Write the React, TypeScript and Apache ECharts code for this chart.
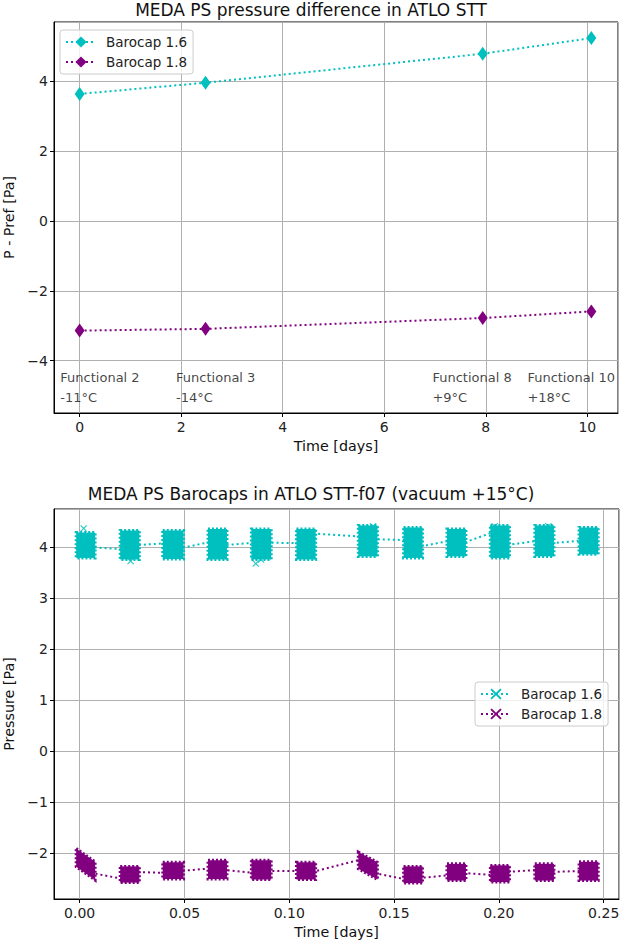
import { useEffect, useRef } from "react";
import * as echarts from "echarts";

const FONT = "DejaVu Sans";
const CYAN = "#00bfbf";
const PURPLE = "#800080";
const NAMES = ["Barocap 1.6", "Barocap 1.8"];

// ---- top chart: pressure difference at the functional tests ----
const testDays = [0, 2.48, 7.94, 10.08];
const diff16 = [3.64, 3.96, 4.79, 5.24];
const diff18 = [-3.14, -3.09, -2.78, -2.59];
const testNames = ["Functional 2", "Functional 3", "Functional 8", "Functional 10"];
const testTemps = ["-11°C", "-14°C", "+9°C", "+18°C"];
const testLabelX = [-0.38, 1.9, 6.95, 8.82];
const testLabelY = -4.19;

// ---- bottom chart: measurement bursts in STT-f07 ----
const burstStart = [0, 0.021, 0.0413, 0.0629, 0.0836, 0.1051, 0.1346, 0.1562, 0.1769, 0.1976, 0.2188, 0.2399];
const burstEnd = [0.0057, 0.0268, 0.0479, 0.0686, 0.0897, 0.1109, 0.1404, 0.1619, 0.1826, 0.2034, 0.2246, 0.2457];

// Barocap 1.6: spread of each burst, and first / last sample
const b16Low = [3.85, 3.82, 3.83, 3.82, 3.82, 3.82, 3.88, 3.85, 3.88, 3.85, 3.88, 3.92];
const b16High = [4.21, 4.25, 4.25, 4.28, 4.28, 4.28, 4.35, 4.31, 4.28, 4.35, 4.35, 4.31];
const b16First = [4.02, 3.95, 4.07, 4.1, 4.08, 4.07, 4.2, 4.13, 4.12, 4.29, 4.12, 4.12];
const b16Last = [3.99, 4.03, 3.97, 4.03, 4.08, 4.26, 4.15, 4.0, 4.07, 4.03, 4.07, 4.1];
const b16Outliers = [
  [0.0019, 4.36],
  [0.0243, 3.72],
  [0.084, 3.67],
  [0.0865, 3.75],
  [0.14, 4.4],
  [0.198, 4.4],
  [0.2236, 4.4],
];

// Barocap 1.8: spread at start and end of each burst (drifting in 1st and 7th)
const b18LowStart = [-2.2, -2.51, -2.44, -2.44, -2.45, -2.45, -2.24, -2.52, -2.47, -2.5, -2.47, -2.47];
const b18HighStart = [-1.98, -2.33, -2.25, -2.21, -2.21, -2.25, -2.05, -2.33, -2.28, -2.31, -2.28, -2.24];
const b18LowEnd = [-2.46, -2.51, -2.44, -2.44, -2.45, -2.45, -2.45, -2.52, -2.47, -2.5, -2.47, -2.47];
const b18HighEnd = [-2.24, -2.33, -2.25, -2.21, -2.21, -2.25, -2.25, -2.33, -2.28, -2.31, -2.28, -2.24];
const b18First = [-2.05, -2.51, -2.39, -2.3, -2.39, -2.35, -2.12, -2.52, -2.43, -2.43, -2.33, -2.35];
const b18Last = [-2.39, -2.37, -2.35, -2.33, -2.35, -2.37, -2.39, -2.49, -2.39, -2.37, -2.37, -2.4];

const X_SYMBOL =
  "path://M0,1.2 L1.2,0 L5,3.8 L8.8,0 L10,1.2 L6.2,5 L10,8.8 L8.8,10 L5,6.2 L1.2,10 L0,8.8 L3.8,5 Z";

const minusFmt = (v: number) => (v < 0 ? "\u2212" + Math.abs(v) : String(v));

const axisCommon = {
  axisLine: { show: true, onZero: false, lineStyle: { color: "#000", width: 1 } },
  axisTick: { show: true, inside: false, length: 4, lineStyle: { color: "#000" } },
  splitLine: { show: true, lineStyle: { color: "#b0b0b0", width: 1 } },
  nameTextStyle: { fontFamily: FONT, fontSize: 14.3, color: "#111" },
};

const labelStyle = { fontFamily: FONT, fontSize: 14, color: "#222", showMinLabel: false, showMaxLabel: false };

const legendCommon = {
  orient: "vertical",
  padding: [5, 6, 5, 5],
  itemGap: 6,
  itemWidth: 30,
  itemHeight: 14,
  backgroundColor: "rgba(255,255,255,0.8)",
  borderColor: "#cccccc",
  borderWidth: 1,
  borderRadius: 3,
  textStyle: { fontFamily: FONT, fontSize: 13.5, color: "#222", padding: [0, 0, 0, 5] },
};

const titleStyle = { fontFamily: FONT, fontSize: 17, fontWeight: "normal", color: "#111" };

const gridCommon = { show: true, borderColor: "#000", borderWidth: 1, outerBoundsMode: "none", containLabel: false };

const pairs = (xs: number[], ys: number[]) => xs.map((x, i) => [x, ys[i]]);

const TopChart = () => {
  const ref = useRef<HTMLDivElement>(null);
  useEffect(() => {
    const chart = echarts.init(ref.current, null, { renderer: "svg" });
    chart.setOption({
      animation: false,
      title: {
        text: "MEDA PS pressure difference in ATLO STT",
        left: "center",
        top: 1,
        padding: [0, 0, 0, 50],
        textStyle: titleStyle,
      },
      legend: { ...legendCommon, left: 60, top: 30, data: NAMES },
      grid: { ...gridCommon, left: 54, top: 22, width: 564, height: 391 },
      xAxis: {
        ...axisCommon,
        type: "value",
        min: -0.505,
        max: 10.605,
        minInterval: 2,
        maxInterval: 2,
        name: "Time [days]",
        nameLocation: "middle",
        nameGap: 26,
        axisLabel: { ...labelStyle, margin: 7, formatter: minusFmt },
      },
      yAxis: {
        ...axisCommon,
        type: "value",
        min: -5.5,
        max: 5.7,
        minInterval: 2,
        maxInterval: 2,
        name: "P - Pref [Pa]",
        nameLocation: "middle",
        nameGap: 38,
        axisLabel: { ...labelStyle, margin: 6, formatter: minusFmt },
      },
      series: [
        {
          name: NAMES[0],
          type: "line",
          data: pairs(testDays, diff16),
          symbol: "diamond",
          symbolSize: [10, 14],
          itemStyle: { color: CYAN },
          lineStyle: { color: CYAN, width: 2, type: [2, 3] },
        },
        {
          name: NAMES[1],
          type: "line",
          data: pairs(testDays, diff18),
          symbol: "diamond",
          symbolSize: [10, 14],
          itemStyle: { color: PURPLE },
          lineStyle: { color: PURPLE, width: 2, type: [2, 3] },
        },
        {
          name: "tests",
          type: "scatter",
          symbolSize: 0,
          data: testLabelX.map((x, i) => ({ value: [x, testLabelY], name: testNames[i] + "\n" + testTemps[i] })),
          label: {
            show: true,
            position: "insideTopLeft",
            distance: 0,
            formatter: "{b}",
            fontFamily: FONT,
            fontSize: 13,
            lineHeight: 20,
            color: "#111",
          },
        },
      ],
    });
    return () => chart.dispose();
  }, []);
  return <div ref={ref} style={{ width: 622, height: 470 }} />;
};

const burstItems = (lo0: number[], hi0: number[], lo1: number[], hi1: number[]) =>
  burstStart.map((t, i) => [t, burstEnd[i], lo0[i], hi0[i], lo1[i], hi1[i]]);

const burstLine = (first: number[], last: number[]) =>
  burstStart.flatMap((t, i) => [
    [t, first[i]],
    [burstEnd[i], last[i]],
  ]);

const makeBurstSeries = (name: string, color: string, data: number[][]) => ({
  name,
  type: "custom",
  z: 3,
  encode: { x: [0, 1], y: [2, 3, 4, 5] },
  data,
  renderItem: (_params: any, api: any) => {
    const t0 = api.value(0);
    const t1 = api.value(1);
    const a = api.coord([t0, api.value(3)]);
    const b = api.coord([t1, api.value(5)]);
    const c = api.coord([t1, api.value(4)]);
    const d = api.coord([t0, api.value(2)]);
    const p = 3.5;
    return {
      type: "polygon",
      shape: {
        points: [
          [a[0] - p, a[1] - p],
          [b[0] + p, b[1] - p],
          [c[0] + p, c[1] + p],
          [d[0] - p, d[1] + p],
        ],
      },
      style: { fill: color, stroke: color, lineWidth: 3, lineDash: [2, 2] },
    };
  },
});

const BottomChart = () => {
  const ref = useRef<HTMLDivElement>(null);
  useEffect(() => {
    const chart = echarts.init(ref.current, null, { renderer: "svg" });
    chart.setOption({
      animation: false,
      title: {
        text: "MEDA PS Barocaps in ATLO STT-f07 (vacuum +15°C)",
        left: "center",
        top: 15,
        padding: [0, 0, 0, 50],
        textStyle: titleStyle,
      },
      legend: { ...legendCommon, left: 475, top: 212, data: NAMES },
      grid: { ...gridCommon, left: 54, top: 39, width: 565, height: 390 },
      xAxis: {
        ...axisCommon,
        type: "value",
        min: -0.01225,
        max: 0.2573,
        minInterval: 0.05,
        maxInterval: 0.05,
        name: "Time [days]",
        nameLocation: "middle",
        nameGap: 26,
        axisLabel: {
          ...labelStyle,
          margin: 7,
          formatter: (v: number) => (Math.abs(v) < 1e-9 ? "0.00" : v.toFixed(2)),
        },
      },
      yAxis: {
        ...axisCommon,
        type: "value",
        min: -2.9,
        max: 4.74,
        minInterval: 1,
        maxInterval: 1,
        name: "Pressure [Pa]",
        nameLocation: "middle",
        nameGap: 38,
        axisLabel: { ...labelStyle, margin: 6, formatter: minusFmt },
      },
      series: [
        {
          name: NAMES[0],
          type: "line",
          z: 2,
          data: burstLine(b16First, b16Last),
          symbol: X_SYMBOL,
          symbolSize: 7,
          showSymbol: false,
          itemStyle: { color: CYAN },
          lineStyle: { color: CYAN, width: 2, type: [2, 3] },
        },
        {
          name: NAMES[1],
          type: "line",
          z: 2,
          data: burstLine(b18First, b18Last),
          symbol: X_SYMBOL,
          symbolSize: 7,
          showSymbol: false,
          itemStyle: { color: PURPLE },
          lineStyle: { color: PURPLE, width: 2, type: [2, 3] },
        },
        makeBurstSeries("b16 bursts", CYAN, burstItems(b16Low, b16High, b16Low, b16High)),
        makeBurstSeries("b18 bursts", PURPLE, burstItems(b18LowStart, b18HighStart, b18LowEnd, b18HighEnd)),
        {
          name: "b16 outliers",
          type: "scatter",
          z: 4,
          symbol: X_SYMBOL,
          symbolSize: 7,
          itemStyle: { color: CYAN },
          data: b16Outliers,
        },
      ],
    });
    return () => chart.dispose();
  }, []);
  return <div ref={ref} style={{ width: 622, height: 475 }} />;
};

export default function App() {
  return (
    <div style={{ position: "absolute", left: 0, top: 0, width: 622, height: 945, background: "#fff" }}>
      <TopChart />
      <BottomChart />
    </div>
  );
}
